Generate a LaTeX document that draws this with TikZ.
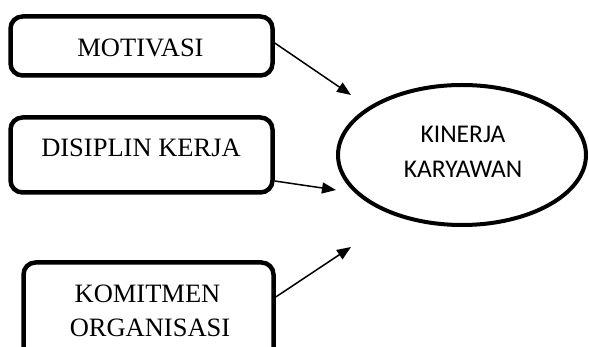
\documentclass[tikz,border=0pt]{standalone}
\usepackage{fontspec}
\setmainfont{Liberation Serif}
\newfontfamily\calibrifont{Carlito}
\usetikzlibrary{shapes.geometric,arrows.meta}
\begin{document}
\begin{tikzpicture}[x=1pt,y=-1pt,
  box/.style={draw,line width=4.5pt,rounded corners=12pt,inner sep=0pt},
  lbl/.style={anchor=base,inner sep=0pt,font=\fontsize{26.5}{32}\selectfont},
  elab/.style={anchor=base,inner sep=0pt,font=\calibrifont\fontsize{25.5}{32}\selectfont},
  conn/.style={line width=1.5pt,-{Triangle[length=14pt,width=11pt]}}]
\useasboundingbox (0,0) rectangle (589,347);
% boxes
\node[box,minimum width=262pt,minimum height=59pt] (b1) at (141.5,46) {};
\node[box,minimum width=262pt,minimum height=75pt] (b2) at (141.5,155) {};
\node[box,minimum width=250pt,minimum height=100pt] (b3) at (148.5,312.5) {};
% ellipse
\node[draw,ellipse,line width=4pt,inner sep=0pt,minimum width=248pt,minimum height=140pt] (k) at (462,155) {};
% texts
\node[lbl] (tm) at (140.5,57) {MOTIVASI};
\node[lbl] (td) at (141,157) {DISIPLIN KERJA};
\node[lbl] (tk1) at (147.5,303) {KOMITMEN};
\node[lbl] (tk2) at (150,337) {ORGANISASI};
\node[elab] (e1) at (463,143) {KINERJA};
\node[elab] (e2) at (463,178) {KARYAWAN};
% arrow ends
\coordinate (t1) at (351,95);
\coordinate (t2) at (336,190);
\coordinate (t3) at (351,247);
\draw[conn] ([yshift=3pt]b1.east) -- (t1);
\draw[conn] ([yshift=-26pt]b2.east) -- (t2);
\draw[conn] ([yshift=15.5pt]b3.east) -- (t3);
\end{tikzpicture}
\end{document}
